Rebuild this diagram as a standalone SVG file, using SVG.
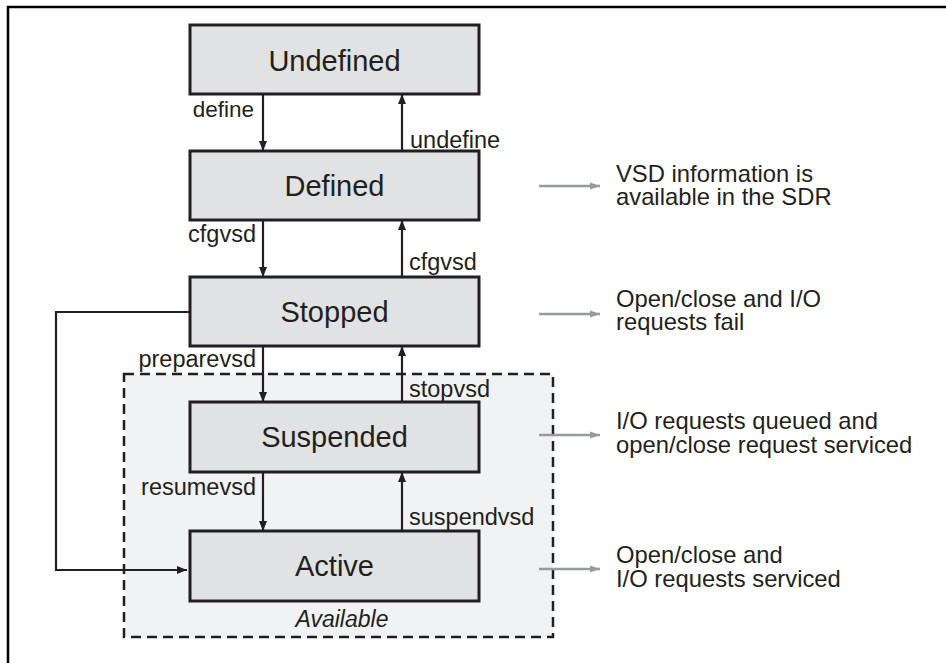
<svg xmlns="http://www.w3.org/2000/svg" width="946" height="663" viewBox="0 0 946 663">
<defs>
<marker id="ah" markerUnits="userSpaceOnUse" markerWidth="12" markerHeight="10" refX="10" refY="5" orient="auto">
<path d="M0,1 L10,5 L0,9 Z" fill="#231f20"/>
</marker>
<marker id="ahg" markerUnits="userSpaceOnUse" markerWidth="12" markerHeight="10" refX="10" refY="5" orient="auto">
<path d="M0,1.5 L10,5 L0,8.5 Z" fill="#999a9c"/>
</marker>
<style>
.box{fill:#e1e2e3;stroke:#231f20;stroke-width:3}
.title{font-family:"Liberation Sans",Arial,sans-serif;font-size:29px;fill:#231f20;text-anchor:middle}
.lbl{font-family:"Liberation Sans",Arial,sans-serif;font-size:23.5px;fill:#231f20}
.note{font-family:"Liberation Sans",Arial,sans-serif;font-size:23.8px;fill:#231f20}
.c{fill:none;stroke:#231f20;stroke-width:2.2}
.g{fill:none;stroke:#999a9c;stroke-width:2.5}
</style>
</defs>
<rect width="946" height="663" fill="#ffffff"/>
<path d="M8,663 V7 H946" fill="none" stroke="#000" stroke-width="2.5"/>

<g id="available">
<rect x="124" y="374" width="429" height="263" fill="#f1f2f3" stroke="#231f20" stroke-width="2.5" stroke-dasharray="10,6"/>
<text x="342" y="627" class="lbl" font-style="italic" text-anchor="middle" style="font-size:23px">Available</text>
</g>

<g id="connectors">
<line class="c" x1="263" y1="94" x2="263" y2="151" marker-end="url(#ah)"/>
<line class="c" x1="402" y1="151" x2="402" y2="94" marker-end="url(#ah)"/>
<line class="c" x1="263" y1="220" x2="263" y2="277" marker-end="url(#ah)"/>
<line class="c" x1="402" y1="277" x2="402" y2="220" marker-end="url(#ah)"/>
<line class="c" x1="263" y1="346" x2="263" y2="402" marker-end="url(#ah)"/>
<line class="c" x1="402" y1="402" x2="402" y2="346" marker-end="url(#ah)"/>
<line class="c" x1="263" y1="472" x2="263" y2="531" marker-end="url(#ah)"/>
<line class="c" x1="402" y1="531" x2="402" y2="472" marker-end="url(#ah)"/>
<path class="c" d="M190,312 H56 V570 H187" marker-end="url(#ah)"/>
<text class="lbl" x="254" y="117" text-anchor="end" style="font-size:22.5px">define</text>
<text class="lbl" x="410" y="148">undefine</text>
<text class="lbl" x="256" y="242" text-anchor="end">cfgvsd</text>
<text class="lbl" x="409" y="270">cfgvsd</text>
<text class="lbl" x="256" y="367" text-anchor="end">preparevsd</text>
<text class="lbl" x="409" y="397">stopvsd</text>
<text class="lbl" x="256" y="495" text-anchor="end">resumevsd</text>
<text class="lbl" x="409" y="525">suspendvsd</text>
<line class="g" x1="539" y1="186" x2="600" y2="186" marker-end="url(#ahg)"/>
<line class="g" x1="539" y1="314" x2="600" y2="314" marker-end="url(#ahg)"/>
<line class="g" x1="539" y1="435" x2="600" y2="435" marker-end="url(#ahg)"/>
<line class="g" x1="539" y1="569" x2="600" y2="569" marker-end="url(#ahg)"/>
</g>

<g id="undefined"><rect class="box" x="190" y="25" width="289" height="69"/><text class="title" x="334.5" y="71">Undefined</text></g>
<g id="defined"><rect class="box" x="190" y="151" width="289" height="69"/><text class="title" x="334.5" y="196">Defined</text></g>
<g id="stopped"><rect class="box" x="190" y="277" width="289" height="69"/><text class="title" x="334.5" y="322">Stopped</text></g>
<g id="suspended"><rect class="box" x="190" y="402" width="289" height="70"/><text class="title" x="334.5" y="447">Suspended</text></g>
<g id="active"><rect class="box" x="190" y="531" width="289" height="70"/><text class="title" x="334.5" y="576">Active</text></g>

<g id="notes">
<text class="note" x="616" y="182">VSD information is</text>
<text class="note" x="616" y="205">available in the SDR</text>
<text class="note" x="616" y="307">Open/close and I/O</text>
<text class="note" x="616" y="330">requests fail</text>
<text class="note" x="616" y="429">I/O requests queued and</text>
<text class="note" x="616" y="453">open/close request serviced</text>
<text class="note" x="616" y="563">Open/close and</text>
<text class="note" x="616" y="587">I/O requests serviced</text>
</g>
</svg>
